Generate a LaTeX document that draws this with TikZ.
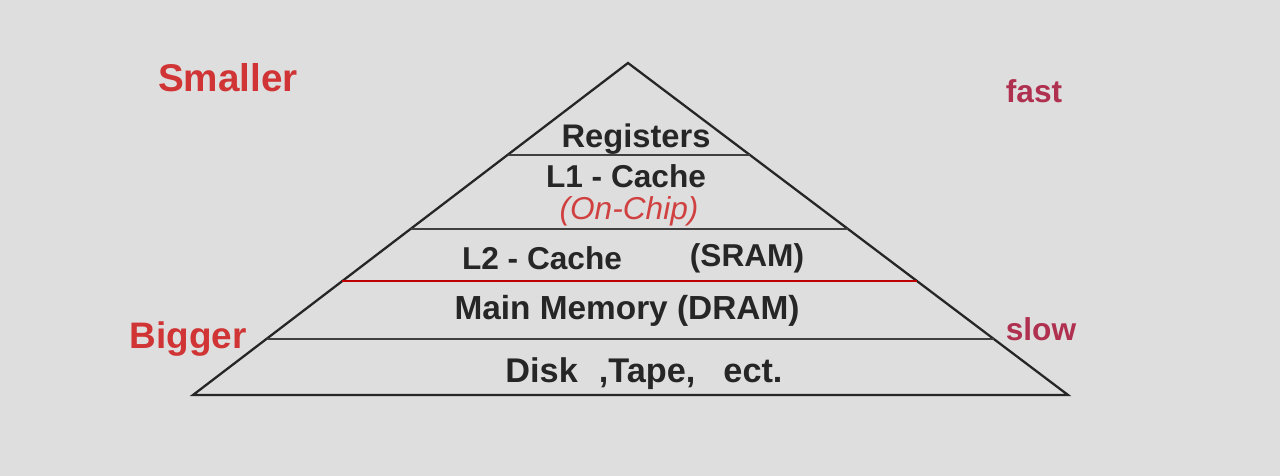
\documentclass[tikz,border=0pt]{standalone}
\usepackage{fontspec}
\setmainfont{Liberation Sans}
\usetikzlibrary{calc}
\definecolor{bggray}{HTML}{DEDEDE}
\definecolor{sizered}{HTML}{D03434}
\definecolor{speedred}{HTML}{B03050}
\definecolor{chipred}{HTML}{D04040}

\begin{document}
\begin{tikzpicture}[x=0.02cm,y=-0.02cm]
\tikzset{
  level/.style={font=\fontsize{18}{20}\selectfont\bfseries,text=black!85,inner sep=1pt},
  note/.style={font=\fontsize{18}{20}\selectfont\bfseries,inner sep=1pt},
  edge/.style={line width=1.3pt,black!85},
  split/.style={line width=1.2pt,black!75},
  redsplit/.style={line width=1pt,red!75!black}
}
\fill[bggray] (0,0) rectangle (1280,476);
\coordinate (apex) at (628,63);
\coordinate (bl) at (193,395);
\coordinate (br) at (1068,395);
\draw[edge,line join=miter] (bl) -- (apex) -- (br) -- cycle;
\draw[split] ($(apex)!0.277!(bl)$) -- ($(apex)!0.277!(br)$);
\draw[split] ($(apex)!0.5!(bl)$) -- ($(apex)!0.5!(br)$);
\draw[redsplit] ($(apex)!0.6566!(bl)$) -- ($(apex)!0.6566!(br)$);
\draw[split] ($(apex)!0.831!(bl)$) -- ($(apex)!0.831!(br)$);
\node[level,font=\fontsize{18.6}{20}\selectfont\bfseries] (n_reg) at (636,139) {Registers};
\node[level,inner sep=0pt] (n_l1) at (626,176) {L1 - Cache};
\node[level,inner sep=0pt,text=chipred,font=\fontsize{18}{20}\selectfont\itshape] (n_chip) at (629,211) {(On-Chip)};
\node[level] (n_l2) at (542,258) {L2 - Cache};
\node[level] (n_sram) at (747,258) {(SRAM)};
\node[level,font=\fontsize{19}{21}\selectfont\bfseries] (n_main) at (627,311) {Main Memory (DRAM)};
\node[level,font=\fontsize{19.5}{21}\selectfont\bfseries] (n_disk) at (644,374) {Disk\hspace{12pt},Tape,\hspace{16pt}ect.};
\node[note,text=sizered,font=\fontsize{22}{24}\selectfont\bfseries] (n_small) at (228,78) {Smaller};
\node[note,text=sizered,font=\fontsize{21}{23}\selectfont\bfseries] (n_big) at (188,339) {Bigger};
\node[note,text=speedred] (n_fast) at (1034,91) {fast};
\node[note,text=speedred] (n_slow) at (1041,329) {slow};
\end{tikzpicture}
\end{document}
